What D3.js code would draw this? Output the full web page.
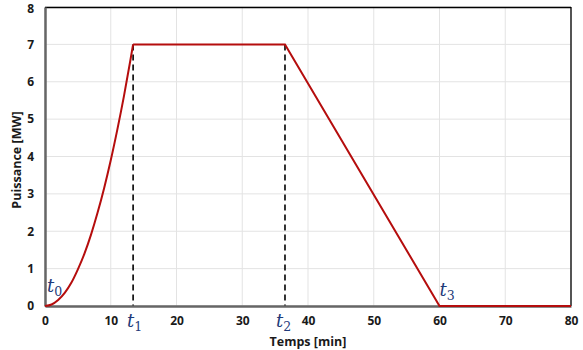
<!DOCTYPE html>
<html><head><meta charset="utf-8">
<script src="https://cdn.jsdelivr.net/npm/d3@7"></script>
<style>body{margin:0;background:#fff}</style>
</head><body>
<svg id="c" width="583" height="350"></svg>
<script>
// rise phase (curved) then plateau, linear decline, zero
const riseTime = [0,1,2,3,4,5,6,7,8,9,10,11,12,13,13.4];
const risePower = [0,0.04,0.16,0.35,0.62,0.98,1.4,1.91,2.5,3.16,3.9,4.72,5.61,6.59,7];
const restTime = [13.4,36.5,60,80];
const restPower = [7,7,0,0];
const xTicks = [0,10,20,30,40,50,60,70,80];
const yTicks = [0,1,2,3,4,5,6,7,8];
const markerTimes = [13.4,36.5];
const labelSubs = ["0","1","2","3"];
const labelTimes = [0,13.4,36.5,60];

const svg = d3.select("#c");
const m = {l:45,t:7,r:571,b:306};
const x = d3.scaleLinear().domain([0,80]).range([m.l,m.r]);
const y = d3.scaleLinear().domain([0,8]).range([m.b,m.t]);

// grid
svg.append("g").selectAll("line").data(xTicks).join("line")
  .attr("x1",d=>x(d)).attr("x2",d=>x(d)).attr("y1",m.t).attr("y2",m.b)
  .attr("stroke","#e3e3e3").attr("stroke-width",1);
svg.append("g").selectAll("line").data(yTicks).join("line")
  .attr("x1",m.l).attr("x2",m.r).attr("y1",d=>y(d)).attr("y2",d=>y(d))
  .attr("stroke","#e3e3e3").attr("stroke-width",1);

// border top/right
svg.append("line").attr("x1",m.l).attr("x2",m.r).attr("y1",m.t+0.5).attr("y2",m.t+0.5).attr("stroke","#000").attr("stroke-width",1.3);
svg.append("line").attr("x1",m.r).attr("x2",m.r).attr("y1",m.t).attr("y2",m.b).attr("stroke","#000").attr("stroke-width",1.3);

// dashed markers
svg.append("g").selectAll("line").data(markerTimes).join("line")
  .attr("x1",d=>x(d)).attr("x2",d=>x(d)).attr("y1",y(7)).attr("y2",m.b)
  .attr("stroke","#000").attr("stroke-width",1.6).attr("stroke-dasharray","6,4");

// axes
const xAxis = svg.append("g").attr("transform",`translate(0,${m.b})`)
  .call(d3.axisBottom(x).tickValues(xTicks).tickSize(0).tickPadding(10));
const yAxis = svg.append("g").attr("transform",`translate(${m.l},0)`)
  .call(d3.axisLeft(y).tickValues(yTicks).tickSize(0).tickPadding(11));
[xAxis,yAxis].forEach(a=>{
  a.select(".domain").attr("stroke","#666").attr("stroke-width",2.5);
  a.selectAll("text").attr("font-family","'Open Sans',sans-serif").attr("font-weight","bold")
   .attr("font-size","12px").attr("fill","#1a1a1a");
});
yAxis.selectAll(".tick text").filter(d=>d===8).attr("dy","0.45em");

// lines
const riseLine = d3.line().x((d,i)=>x(riseTime[i])).y(d=>y(d)).curve(d3.curveMonotoneX);
const restLine = d3.line().x((d,i)=>x(restTime[i])).y(d=>y(d));
svg.append("path").datum(risePower).attr("d",riseLine).attr("fill","none")
  .attr("stroke","#b50d0d").attr("stroke-width",2).attr("stroke-linejoin","miter");
svg.append("path").datum(restPower).attr("d",restLine).attr("fill","none")
  .attr("stroke","#b50d0d").attr("stroke-width",2).attr("stroke-linejoin","miter");

// t labels
const lblDx = [2,-6,-9,0];
const lblY = [y(0)-14, y(0)+21, y(0)+21, y(0)-10];
labelTimes.forEach((t,i)=>{
  const tx = svg.append("text").attr("font-family","'DejaVu Serif',serif").attr("font-style","italic")
    .attr("font-size","18px").attr("fill","#1f3b7a")
    .attr("x", x(t)+lblDx[i]).attr("y", lblY[i]);
  tx.append("tspan").text("t");
  tx.append("tspan").attr("font-size","12.5px").attr("font-style","normal").attr("dy",4).text(labelSubs[i]);
});

// titles
svg.append("text").attr("x",(m.l+m.r)/2).attr("y",346).attr("text-anchor","middle")
  .attr("font-family","'Open Sans',sans-serif").attr("font-weight","bold").attr("font-size","12.5px")
  .attr("fill","#1a1a1a").text("Temps [min]");
svg.append("text").attr("transform",`translate(21,160) rotate(-90)`).attr("text-anchor","middle")
  .attr("font-family","'Open Sans',sans-serif").attr("font-weight","bold").attr("font-size","12.5px")
  .attr("fill","#1a1a1a").text("Puissance [MW]");
</script>
</body></html>
